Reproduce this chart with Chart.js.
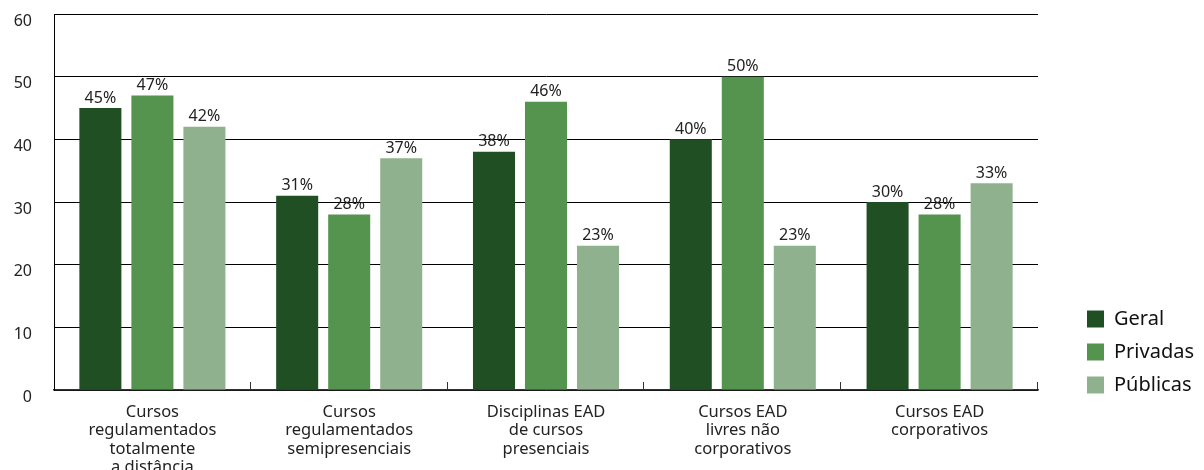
<!DOCTYPE html>
<html>
<head>
<meta charset="utf-8">
<script src="https://cdn.jsdelivr.net/npm/chart.js@4/dist/chart.umd.min.js"></script>
<style>
  html, body { margin: 0; padding: 0; background: #fff; }
  #wrap { width: 1204px; height: 470px; position: relative; }
</style>
</head>
<body>
<div id="wrap"><canvas id="chart"></canvas></div>
<script>
// data
const categories = [
    ["Cursos", "regulamentados", "totalmente", "a distância"],
    ["Cursos", "regulamentados", "semipresenciais"],
    ["Disciplinas EAD", "de cursos", "presenciais"],
    ["Cursos EAD", "livres não", "corporativos"],
    ["Cursos EAD", "corporativos"]
];
const seriesNames = ["Geral", "Privadas", "Públicas"];
const geral = [45, 31, 38, 40, 30];
const privadas = [47, 28, 46, 50, 28];
const publicas = [42, 37, 23, 23, 33];
const yTicks = [0, 10, 20, 30, 40, 50, 60];

const colors = ["#214f24", "#55944e", "#90b18d"];
const FONT = "'Noto Sans', 'Open Sans', sans-serif";

// value labels above each bar
const barLabels = {
    id: "barLabels",
    afterDatasetsDraw(chart) {
        const ctx = chart.ctx;
        ctx.save();
        ctx.font = "16px " + FONT;
        ctx.fillStyle = "#222";
        ctx.textAlign = "center";
        ctx.textBaseline = "bottom";
        chart.data.datasets.forEach((ds, i) => {
            chart.getDatasetMeta(i).data.forEach((bar, j) => {
                ctx.fillText(ds.data[j] + "%", bar.x, bar.y - 2);
            });
        });
        ctx.restore();
    }
};

// small upward ticks between categories on the x axis
const catTicks = {
    id: "catTicks",
    afterDraw(chart) {
        const x = chart.scales.x;
        const ctx = chart.ctx;
        const n = categories.length;
        const step = (x.right - x.left) / n;
        ctx.save();
        ctx.strokeStyle = "#333";
        ctx.lineWidth = 1;
        for (let i = 1; i <= n; i++) {
            const px = Math.round(x.left + i * step) - 0.5;
            ctx.beginPath();
            ctx.moveTo(px, x.top);
            ctx.lineTo(px, x.top - 8);
            ctx.stroke();
        }
        ctx.restore();
    }
};

// legend sits a bit lower than the default end alignment
const legendShift = {
    id: "legendShift",
    afterLayout(chart) {
        if (!chart.legend) return;
        chart.legend.top += 18;
        chart.legend.bottom += 18;
    }
};

new Chart(document.getElementById("chart"), {
    type: "bar",
    data: {
        labels: categories,
        datasets: [
            { label: seriesNames[0], data: geral, backgroundColor: colors[0] },
            { label: seriesNames[1], data: privadas, backgroundColor: colors[1] },
            { label: seriesNames[2], data: publicas, backgroundColor: colors[2] }
        ]
    },
    options: {
        responsive: true,
        maintainAspectRatio: false,
        animation: false,
        categoryPercentage: 0.793,
        barPercentage: 0.808,
        layout: { padding: { top: 14, left: 14, right: 0, bottom: 0 } },
        plugins: {
            tooltip: { enabled: false },
            legend: {
                position: "right",
                align: "end",
                fullSize: false,
                labels: {
                    boxWidth: 17,
                    boxHeight: 17,
                    padding: 13,
                    color: "#111",
                    font: { family: FONT, size: 20 }
                }
            }
        },
        scales: {
            x: {
                grid: { display: false },
                border: { display: true, color: "#333", width: 1.5 },
                ticks: {
                    color: "#222",
                    padding: 5,
                    maxRotation: 0,
                    autoSkip: false,
                    font: { family: FONT, size: 16.5, lineHeight: 1.12 }
                },
                afterFit(scale) {
                    scale.height = 80;
                    scale.paddingLeft = 0;
                    scale.paddingRight = 0;
                }
            },
            y: {
                min: 0,
                max: 60,
                afterBuildTicks(scale) { scale.ticks = yTicks.map(v => ({ value: v })); },
                grid: { color: "#000", lineWidth: 1, drawTicks: false },
                border: { display: true, color: "#000", width: 1 },
                ticks: {
                    color: "#222",
                    padding: 22,
                    labelOffset: 7,
                    font: { family: FONT, size: 16 }
                },
                afterFit(scale) {
                    scale.width = 40;
                    scale.paddingTop = 0;
                    scale.paddingBottom = 0;
                }
            },
            gap: {
                type: "linear",
                axis: "y",
                position: "right",
                display: true,
                grid: { display: false, drawTicks: false },
                border: { display: false },
                ticks: { display: false },
                afterFit(scale) { scale.width = 36; }
            }
        }
    },
    plugins: [barLabels, catTicks, legendShift]
});
</script>
</body>
</html>
